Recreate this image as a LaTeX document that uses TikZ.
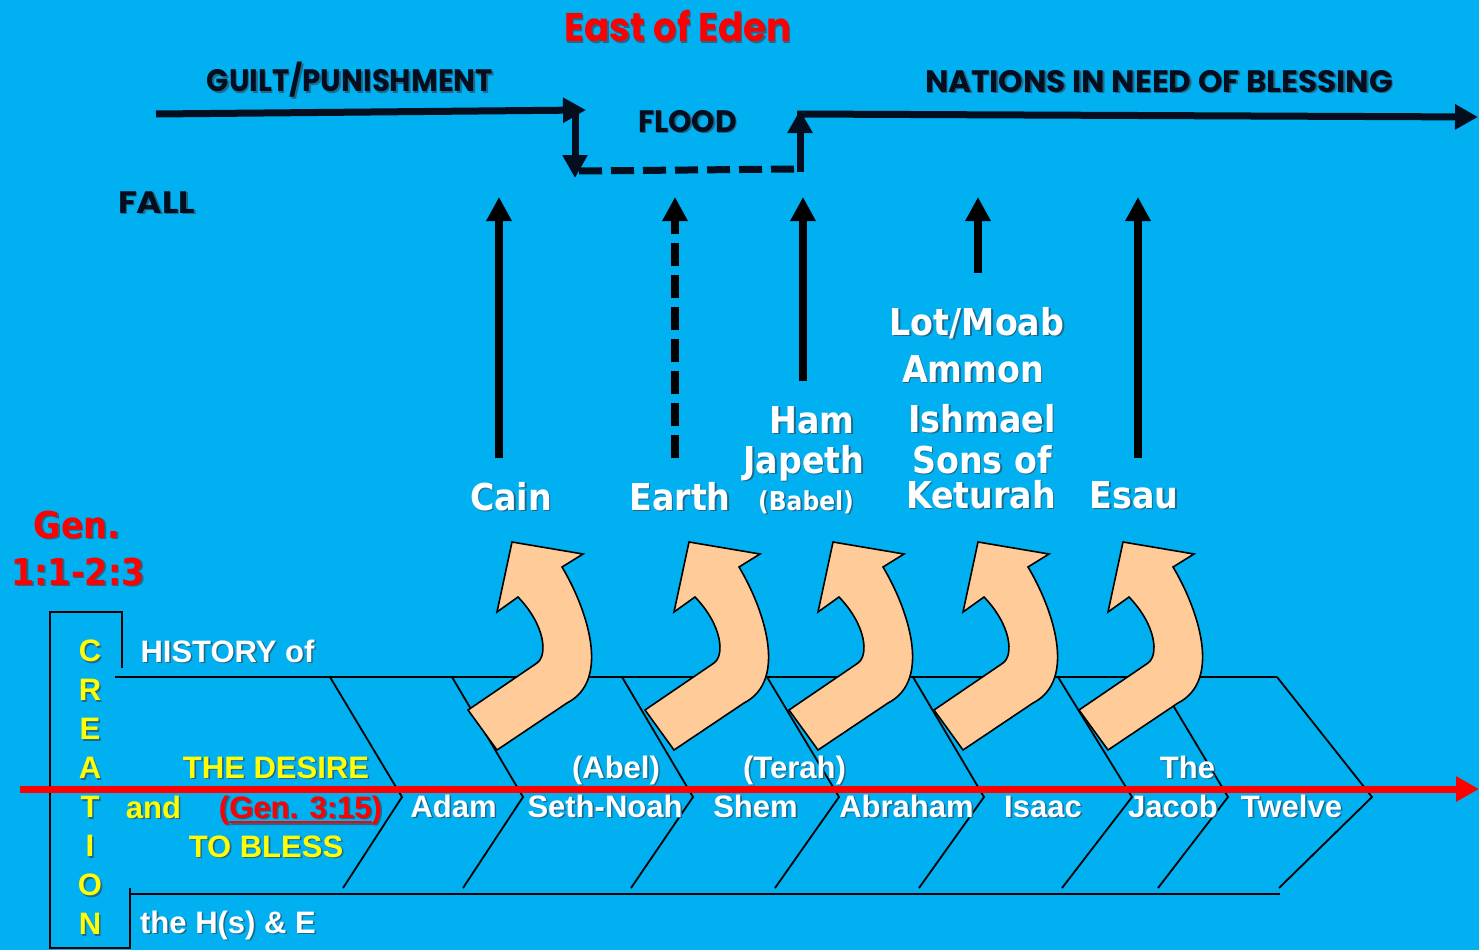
\documentclass[tikz,border=0pt]{standalone}
\usepackage{graphicx}
\usepackage{fontspec}
\setmainfont{Liberation Sans}
\newfontfamily\tahfont{DejaVu Sans Condensed}
\newfontfamily\gothfont{Poppins}
\usetikzlibrary{arrows.meta}
\definecolor{bgblue}{HTML}{00B0F0}
\definecolor{peach}{HTML}{FFCC99}
\definecolor{navy}{HTML}{050E1E}
\definecolor{shadowc}{HTML}{1E6A8C}
\definecolor{myred}{HTML}{FF0000}
\definecolor{myyellow}{HTML}{FFFF00}
\newcommand{\shd}[1]{\leavevmode\rlap{\hspace{1.6pt}\raisebox{-1.6pt}{\textcolor{shadowc}{#1}}}#1}
\newcommand{\fitw}[2]{\resizebox{#1}{\height}{#2}}
\newcommand{\myul}[1]{\setbox0\hbox{#1}\rlap{\rule[-5pt]{\wd0}{2pt}}\box0}
\begin{document}
\begin{tikzpicture}[x=1pt,y=-1pt,
  lbl/.style={inner sep=0pt, anchor=base},
  gothic/.style={lbl, text=navy, font={\gothfont\fontsize{31}{34}\selectfont\bfseries}},
  tah/.style={lbl, text=white, font={\tahfont\fontsize{37}{40}\selectfont\bfseries}},
  ari/.style={lbl, text=white, font={\fontsize{31}{37}\selectfont\bfseries}},
  navyarrow/.style={draw=navy, line width=7pt, -{Triangle[length=23pt,width=24pt]}},
  blkarrow/.style={draw=black, line width=8pt, -{Triangle[length=24pt,width=24pt]}},
  frame/.style={draw=black, line width=1.8pt},
  curvy/.pic={
    \draw[fill=peach, draw=black, line width=1.6pt, line join=miter]
      (0,0) -- (71,12) -- (50,25) .. controls (74,65) and (100,138) .. (55,161)
      -- (-15,208) -- (-44,168) -- (25,121) .. controls (36,113) and (33,83) .. (6,55)
      -- (-15,70) -- cycle;
  }]
\fill[bgblue] (0,0) rectangle (1479,950);
\useasboundingbox (0,0) rectangle (1479,950);

% ---------- top line: guilt / flood / nations ----------
\coordinate (gA) at (156,114); \coordinate (gB) at (586,110);
\coordinate (fA) at (575,108); \coordinate (fB) at (575,178);
\coordinate (dA) at (579,171); \coordinate (dB) at (797,169);
\coordinate (uA) at (800,172); \coordinate (uB) at (800,110);
\coordinate (nA) at (797,114); \coordinate (nB) at (1478,117);
\draw[navyarrow] (gA) -- (gB);
\draw[navyarrow] (fA) -- (fB);
\draw[draw=navy, line width=7pt, dash pattern=on 23pt off 9pt] (dA) -- (dB);
\draw[navyarrow] (uA) -- (uB);
\draw[navyarrow] (nA) -- (nB);

\node[lbl, text=myred, font={\gothfont\fontsize{40}{44}\selectfont\bfseries}] (eden) at (678,42) {\fitw{227pt}{\shd{East of Eden}}};
\node[gothic] (guilt) at (350,92) {\fitw{286pt}{\shd{GUILT/PUNISHMENT}}};
\node[gothic] (nations) at (1159,92) {\fitw{468pt}{\shd{NATIONS IN NEED OF BLESSING}}};
\node[gothic] (flood) at (687.5,132) {\fitw{99pt}{\shd{FLOOD}}};
\node[gothic] (fall) at (156.5,213) {\fitw{77pt}{\shd{FALL}}};

% ---------- vertical arrows ----------
\coordinate (cainA) at (499,458); \coordinate (cainB) at (499,197);
\coordinate (earthA) at (675,458); \coordinate (earthB) at (675,197);
\coordinate (hamA) at (803,381); \coordinate (hamB) at (803,197);
\coordinate (lotA) at (978,273); \coordinate (lotB) at (978,197);
\coordinate (esauA) at (1138,458); \coordinate (esauB) at (1138,197);
\draw[blkarrow] (cainA) -- (cainB);
\draw[blkarrow, dash pattern=on 23pt off 9pt] (earthA) -- (earthB);
\draw[blkarrow] (hamA) -- (hamB);
\draw[blkarrow] (lotA) -- (lotB);
\draw[blkarrow] (esauA) -- (esauB);

\node[tah] (cain) at (511,510) {\shd{Cain}};
\node[tah] (earth) at (680,510) {\shd{Earth}};
\node[tah] (ham) at (812,433) {\shd{Ham}};
\node[tah] (japeth) at (804,473) {\shd{Japeth}};
\node[tah, font={\tahfont\fontsize{26}{30}\selectfont\bfseries}] (babel) at (806,510) {\shd{(Babel)}};
\node[tah] (lot) at (977,335) {\shd{Lot/Moab}};
\node[tah] (ammon) at (973,382) {\shd{Ammon}};
\node[tah] (ishmael) at (982,432) {\shd{Ishmael}};
\node[tah] (sons) at (982,473) {\shd{Sons of}};
\node[tah] (keturah) at (981,508) {\shd{Keturah}};
\node[tah] (esau) at (1134,508) {\shd{Esau}};

\node[tah, text=myred] (gen1) at (77,538) {\shd{Gen.}};
\node[tah, text=myred] (gen2) at (78,585) {\shd{1:1-2:3}};

% ---------- creation box and chevrons ----------
\draw[frame] (122,668) -- (122,612) -- (50,612) -- (50,948) -- (130,948) -- (130,888);
\draw[frame] (115,677) -- (1277,677);
\draw[frame] (130,894) -- (1280,894);
\foreach \t/\m/\b in {330/402/343, 452/523/463, 622/693/631, 767/839/775,
                      913/984/919, 1058/1132/1062, 1156/1228/1158, 1277/1372/1279}
  \draw[frame, line join=miter] (\t,677) -- (\m,797) -- (\b,888);

% ---------- curved arrows ----------
\pic at (512,542) {curvy};
\pic at (689,542) {curvy};
\pic at (833,542) {curvy};
\pic at (978,542) {curvy};
\pic at (1123,542) {curvy};

% ---------- red timeline ----------
\coordinate (redA) at (20,789); \coordinate (redB) at (1479,789);
\draw[draw=myred, line width=7pt, -{Triangle[length=23pt,width=24pt]}] (redA) -- (redB);

% ---------- bottom texts ----------
\node[lbl, text=myyellow, align=center, anchor=center, font={\fontsize{31}{39}\selectfont\bfseries}] (creation) at (90,788)
  {\shd{C}\\\shd{R}\\\shd{E}\\\shd{A}\\\shd{T}\\\shd{I}\\\shd{O}\\\shd{N}};
\node[ari] (history) at (227.5,662) {\shd{HISTORY of}};
\node[ari, text=myyellow] (desire) at (276,778) {\shd{THE DESIRE}};
\node[ari, text=myyellow] (and) at (153.5,818) {\shd{and}};
\node[ari, text=myred] (gen315) at (300.5,818) {\shd{(\myul{Gen. 3:15})}};
\node[ari, text=myyellow] (bless) at (266,857) {\shd{TO BLESS}};
\node[ari] (hse) at (228,933) {\shd{the H(s) \& E}};

\node[ari] (adam) at (453.5,817) {\shd{Adam}};
\node[ari] (seth) at (605,817) {\shd{Seth-Noah}};
\node[ari] (shem) at (755.5,817) {\shd{Shem}};
\node[ari] (abraham) at (906.5,817) {\shd{Abraham}};
\node[ari] (isaac) at (1043,817) {\shd{Isaac}};
\node[ari] (jacob) at (1173,817) {\shd{Jacob}};
\node[ari] (twelve) at (1291.5,817) {\shd{Twelve}};
\node[ari] (abel) at (616,778) {\shd{(Abel)}};
\node[ari] (terah) at (794.5,778) {\shd{(Terah)}};
\node[ari] (the) at (1187.5,778) {\shd{The}};
\end{tikzpicture}
\end{document}
